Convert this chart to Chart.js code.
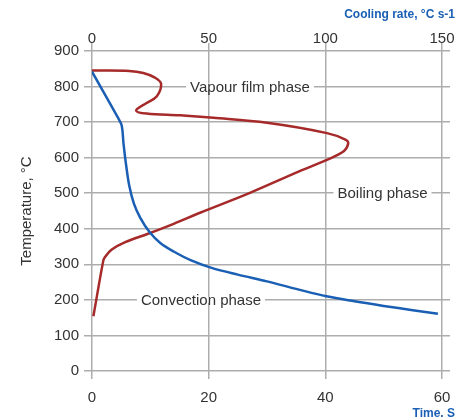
<!DOCTYPE html>
<html>
<head>
<meta charset="utf-8">
<script src="https://cdn.jsdelivr.net/npm/chart.js@4"></script>
<style>
    html, body { margin: 0; padding: 0; background: #fff; }
    #wrap { width: 470px; height: 419px; }
</style>
</head>
<body>
<div id="wrap"><canvas id="quenchChart"></canvas></div>
<script>
    // Temperature vs time (bottom axis, s)
    const timeS = [0, 4.5, 5.1, 5.4, 5.8, 6.4, 7.2, 8.3, 9.9, 11.7, 14, 17, 20.5, 25, 30, 35, 40.2, 45, 50, 55, 59.3];
    const timeTemp = [842, 711, 690, 640, 585, 520, 470, 430, 390, 360, 336, 311, 290, 271, 252, 231, 210, 196, 183, 171, 161];

    // Temperature vs cooling rate (top axis, °C/s)
    const coolRate = [0, 16, 22, 27, 29.6, 27.7, 23.4, 18.9, 23.4, 37.7, 52, 75, 100.7, 108.6, 109.8, 107.9, 100.7, 89, 67.7, 46.3, 35, 24, 14, 8.5, 5.5, 4.8, 0.6];
    const coolTemp = [845, 844, 838, 825, 808, 772, 754, 733, 724, 719, 712, 698, 669, 651, 640, 618, 594, 562, 501, 445, 414, 386, 362, 342, 320, 309, 154];

    // phase labels (anchored on cooling-rate axis / temperature)
    const phaseText = ['Vapour film phase', 'Boiling phase', 'Convection phase'];
    const phaseRate = [67.7, 124.5, 46.7];
    const phaseTemp = [800, 500, 200];

    const gridGray = '#adadad';
    const textGray = '#333333';
    const blue = '#1a5fb4';
    const red = '#a62a2a';

    Chart.defaults.font.family = "'Liberation Sans', Arial, sans-serif";

    const toPoints = (xs, ys) => xs.map((v, i) => ({ x: v, y: ys[i] }));

    // labels with white box + blue axis captions
    const labelPlugin = {
        id: 'phaseLabels',
        afterDraw(chart) {
            const ctx = chart.ctx;
            const sx = chart.scales.x2;
            const sy = chart.scales.y;
            ctx.save();
            ctx.font = "15px 'Liberation Sans', Arial, sans-serif";
            ctx.textAlign = 'center';
            ctx.textBaseline = 'middle';
            phaseText.forEach((t, i) => {
                const px = sx.getPixelForValue(phaseRate[i]);
                const py = sy.getPixelForValue(phaseTemp[i]);
                const w = ctx.measureText(t).width;
                ctx.fillStyle = '#fff';
                ctx.fillRect(px - w / 2 - 4, py - 3, w + 8, 6);
                ctx.fillStyle = textGray;
                ctx.fillText(t, px, py + 1);
            });
            ctx.font = "bold 12px 'Liberation Sans', Arial, sans-serif";
            ctx.fillStyle = blue;
            ctx.textAlign = 'right';
            ctx.fillText('Cooling rate, °C s-1', 455, 15);
            ctx.fillText('Time. S', 455, 414);
            ctx.restore();
        }
    };

    const gridOpts = { color: gridGray, lineWidth: 1.5, tickLength: 8, tickColor: gridGray };
    const tickFont = { size: 15 };

    new Chart(document.getElementById('quenchChart'), {
        type: 'line',
        data: {
            datasets: [
                {
                    label: 'Temperature vs time',
                    data: toPoints(timeS, timeTemp),
                    xAxisID: 'x',
                    yAxisID: 'y',
                    borderColor: blue,
                    borderWidth: 2.5,
                    pointRadius: 0,
                    tension: 0.35,
                    fill: false
                },
                {
                    label: 'Temperature vs cooling rate',
                    data: toPoints(coolRate, coolTemp),
                    xAxisID: 'x2',
                    yAxisID: 'y',
                    borderColor: red,
                    borderWidth: 2.5,
                    pointRadius: 0,
                    tension: 0.35,
                    fill: false
                }
            ]
        },
        options: {
            responsive: true,
            maintainAspectRatio: false,
            animation: false,
            layout: { padding: 0 },
            plugins: {
                legend: { display: false },
                tooltip: { enabled: false }
            },
            scales: {
                x: {
                    type: 'linear',
                    position: 'bottom',
                    min: 0,
                    max: 60,
                    ticks: { stepSize: 20, padding: 10, color: textGray, font: tickFont, maxRotation: 0 },
                    grid: gridOpts,
                    border: { display: false },
                    afterFit(scale) { scale.height = 48; }
                },
                x2: {
                    type: 'linear',
                    position: 'top',
                    min: 0,
                    max: 150,
                    ticks: { stepSize: 50, padding: -5, color: textGray, font: tickFont, maxRotation: 0 },
                    grid: Object.assign({}, gridOpts, { drawOnChartArea: false }),
                    border: { display: false },
                    afterFit(scale) { scale.height = 51; }
                },
                y: {
                    type: 'linear',
                    position: 'left',
                    min: 0,
                    max: 900,
                    ticks: { stepSize: 100, padding: 5, color: textGray, font: tickFont },
                    grid: gridOpts,
                    border: { display: false },
                    title: {
                        display: true,
                        text: 'Temperature, °C',
                        color: textGray,
                        font: { size: 15 },
                        padding: { top: 18, bottom: 0 }
                    },
                    afterFit(scale) { scale.width = 92; }
                },
                y2: {
                    type: 'linear',
                    position: 'right',
                    min: 0,
                    max: 900,
                    ticks: { stepSize: 100, display: false },
                    grid: Object.assign({}, gridOpts, { drawOnChartArea: false }),
                    border: { display: false },
                    afterFit(scale) { scale.width = 28; }
                }
            }
        },
        plugins: [labelPlugin]
    });
</script>
</body>
</html>
